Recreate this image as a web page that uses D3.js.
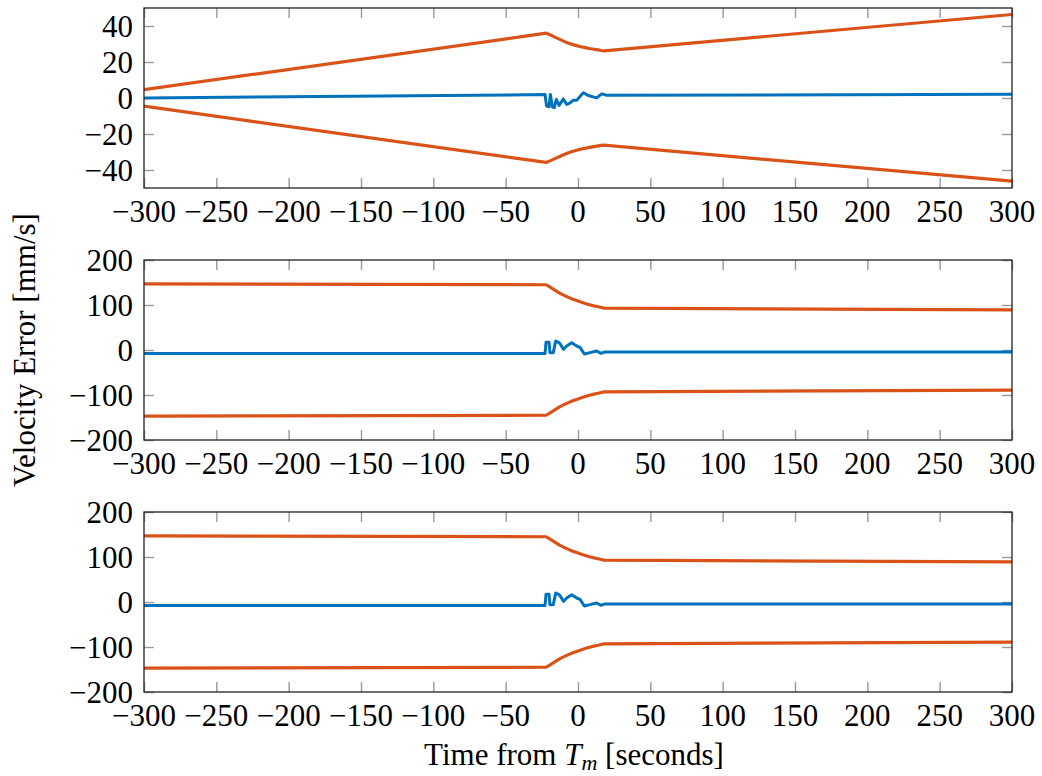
<!DOCTYPE html>
<html>
<head>
<meta charset="utf-8">
<script src="https://cdn.jsdelivr.net/npm/d3@7"></script>
<style>
  html, body { margin: 0; padding: 0; background: #fff; }
</style>
</head>
<body>
<svg id="chart" width="1042" height="776"></svg>
<script>
// ---- data ----------------------------------------------------------------
const xTicks = [-300, -250, -200, -150, -100, -50, 0, 50, 100, 150, 200, 250, 300];
const yTicksTop = [-40, -20, 0, 20, 40];
const yTicksLower = [-200, -100, 0, 100, 200];

// covariance bound sample times (shared by all panels)
const boundTime = [-300, -22, -19, -16, -13, -10, -7, -4, -1, 2, 5, 8, 11, 14, 16, 18, 300];

// panel 1 bounds
const bound1Upper = [4.6, 36.0, 35.0, 33.8, 32.7, 31.6, 30.6, 29.8, 29.1, 28.5, 28.0, 27.5, 27.1, 26.7, 26.4, 26.2, 46.4];
const bound1Lower = [-4.5, -35.8, -34.8, -33.7, -32.6, -31.5, -30.5, -29.7, -29.0, -28.4, -27.9, -27.4, -27.0, -26.6, -26.3, -26.2, -46.2];

// panel 2 bounds
const bound2Upper = [147, 145, 139, 133, 127, 122, 117.5, 113.5, 110, 106.5, 103.5, 100.5, 98, 96, 94.5, 93, 89];
const bound2Lower = [-147, -145, -139, -133, -127, -122, -117.5, -113.5, -110, -106.5, -103.5, -100.5, -98, -96, -94.5, -93, -89];

// panel 3 bounds
const bound3Upper = [147, 145, 139, 133, 127, 122, 117.5, 113.5, 110, 106.5, 103.5, 100.5, 98, 96, 94.5, 93, 89];
const bound3Lower = [-147, -145, -139, -133, -127, -122, -117.5, -113.5, -110, -106.5, -103.5, -100.5, -98, -96, -94.5, -93, -89];

// panel 1 error
const err1Time  = [-300, -22.8, -21.7, -20.0, -19.1, -17.7, -16.4, -15.0, -13.1, -10.1, -7.8, -5.5, -3.2, -0.9, 3.7, 7.1, 12.9, 16.4, 19.8, 300];
const err1Value = [0.0, 1.9, -4.5, -4.9, 1.9, -4.9, -5.4, -0.8, -4.1, -0.5, -3.6, -2.7, -1.2, -1.2, 2.9, 1.4, 0.1, 2.3, 1.5, 2.1];

// panel 2 error
const err2Time  = [-300, -22.8, -22.1, -20.0, -19.4, -17.1, -15.4, -13.1, -11.8, -10.1, -7.8, -4.4, -0.9, 1.4, 4.4, 8.3, 12.9, 15.9, 18.7, 300];
const err2Value = [-8, -8, 17, 17, -6, -5.9, 20, 16.3, 11, 1.5, 8.9, 16.3, 8.9, 5.9, -8.9, -5.9, -2.2, -7.4, -4.2, -4.2];

// panel 3 error
const err3Time  = [-300, -22.8, -22.1, -20.0, -19.4, -17.1, -15.4, -13.1, -11.8, -10.1, -7.8, -4.4, -0.9, 1.4, 4.4, 8.3, 12.9, 15.9, 18.7, 300];
const err3Value = [-8, -8, 17, 17, -6, -5.9, 20, 16.3, 11, 1.5, 8.9, 16.3, 8.9, 5.9, -8.9, -5.9, -2.2, -7.4, -4.2, -4.2];

// ---- layout ----------------------------------------------------------------
const svg = d3.select("#chart");
const FONT = "'Liberation Serif', 'Times New Roman', serif";
const left = 144, right = 1012, panelH = 180;
const panelTops = [8, 260, 512];
const blue = "#0072BD", orange = "#D95319";
const fontSize = 31;

const panels = [
  { domain: [-50, 50],   ticks: yTicksTop,   up: bound1Upper, lo: bound1Lower, et: err1Time, ev: err1Value },
  { domain: [-200, 200], ticks: yTicksLower, up: bound2Upper, lo: bound2Lower, et: err2Time, ev: err2Value },
  { domain: [-200, 200], ticks: yTicksLower, up: bound3Upper, lo: bound3Lower, et: err3Time, ev: err3Value }
];

const x = d3.scaleLinear().domain([-300, 300]).range([left, right]);
const fmt = d3.format("d");

panels.forEach((p, i) => {
  const top = panelTops[i], bottom = top + panelH;
  const y = d3.scaleLinear().domain(p.domain).range([bottom, top]);
  const g = svg.append("g");

  const clipId = "clip" + i;
  g.append("clipPath").attr("id", clipId)
    .append("rect").attr("x", left).attr("y", top)
    .attr("width", right - left).attr("height", panelH);

  // inward tick marks on all four sides
  const tickStyle = sel => {
    sel.select(".domain").remove();
    sel.selectAll(".tick line").attr("stroke", "#9a9a9a").attr("stroke-width", 1.4);
    sel.selectAll(".tick text").remove();
  };
  g.append("g").attr("transform", `translate(0,${bottom})`)
    .call(d3.axisBottom(x).tickValues(xTicks).tickSize(-10)).call(tickStyle);
  g.append("g").attr("transform", `translate(0,${top})`)
    .call(d3.axisTop(x).tickValues(xTicks).tickSize(-10)).call(tickStyle);
  g.append("g").attr("transform", `translate(${left},0)`)
    .call(d3.axisLeft(y).tickValues(p.ticks).tickSize(-10)).call(tickStyle);
  g.append("g").attr("transform", `translate(${right},0)`)
    .call(d3.axisRight(y).tickValues(p.ticks).tickSize(-10)).call(tickStyle);

  // tick labels
  g.selectAll(".xl").data(xTicks).enter().append("text")
    .attr("x", d => x(d)).attr("y", bottom + 34)
    .attr("text-anchor", "middle").attr("font-size", fontSize)
    .attr("font-family", FONT).attr("fill", "#000")
    .text(d => fmt(d));
  g.selectAll(".yl").data(p.ticks).enter().append("text")
    .attr("x", left - 11).attr("y", d => y(d)).attr("dy", "0.34em")
    .attr("text-anchor", "end").attr("font-size", fontSize)
    .attr("font-family", FONT).attr("fill", "#000")
    .text(d => fmt(d));

  const line = d3.line().x(d => x(d[0])).y(d => y(d[1]));
  const plot = g.append("g").attr("clip-path", `url(#${clipId})`);

  plot.append("path")
    .datum(p.et.map((t, k) => [t, p.ev[k]]))
    .attr("d", line).attr("fill", "none")
    .attr("stroke", blue).attr("stroke-width", 3).attr("stroke-linejoin", "round");

  [p.up, p.lo].forEach(vals => {
    plot.append("path")
      .datum(boundTime.map((t, k) => [t, vals[k]]))
      .attr("d", line).attr("fill", "none")
      .attr("stroke", orange).attr("stroke-width", 3.2).attr("stroke-linejoin", "round");
  });

  // frame
  g.append("rect").attr("x", left).attr("y", top)
    .attr("width", right - left).attr("height", panelH)
    .attr("fill", "none").attr("stroke", "#222").attr("stroke-width", 1.3);
});

// axis titles
svg.append("text")
  .attr("transform", "translate(35,350) rotate(-90)")
  .attr("text-anchor", "middle").attr("font-size", fontSize)
  .attr("font-family", FONT).attr("fill", "#000")
  .text("Velocity Error [mm/s]");

const xt = svg.append("text")
  .attr("x", 574).attr("y", 765)
  .attr("text-anchor", "middle").attr("font-size", fontSize)
  .attr("font-family", FONT).attr("fill", "#000");
xt.append("tspan").text("Time from ");
xt.append("tspan").attr("font-style", "italic").text("T");
xt.append("tspan").attr("font-style", "italic").attr("font-size", 22).attr("dy", 5).text("m");
xt.append("tspan").attr("dy", -5).text(" [seconds]");
</script>
</body>
</html>
